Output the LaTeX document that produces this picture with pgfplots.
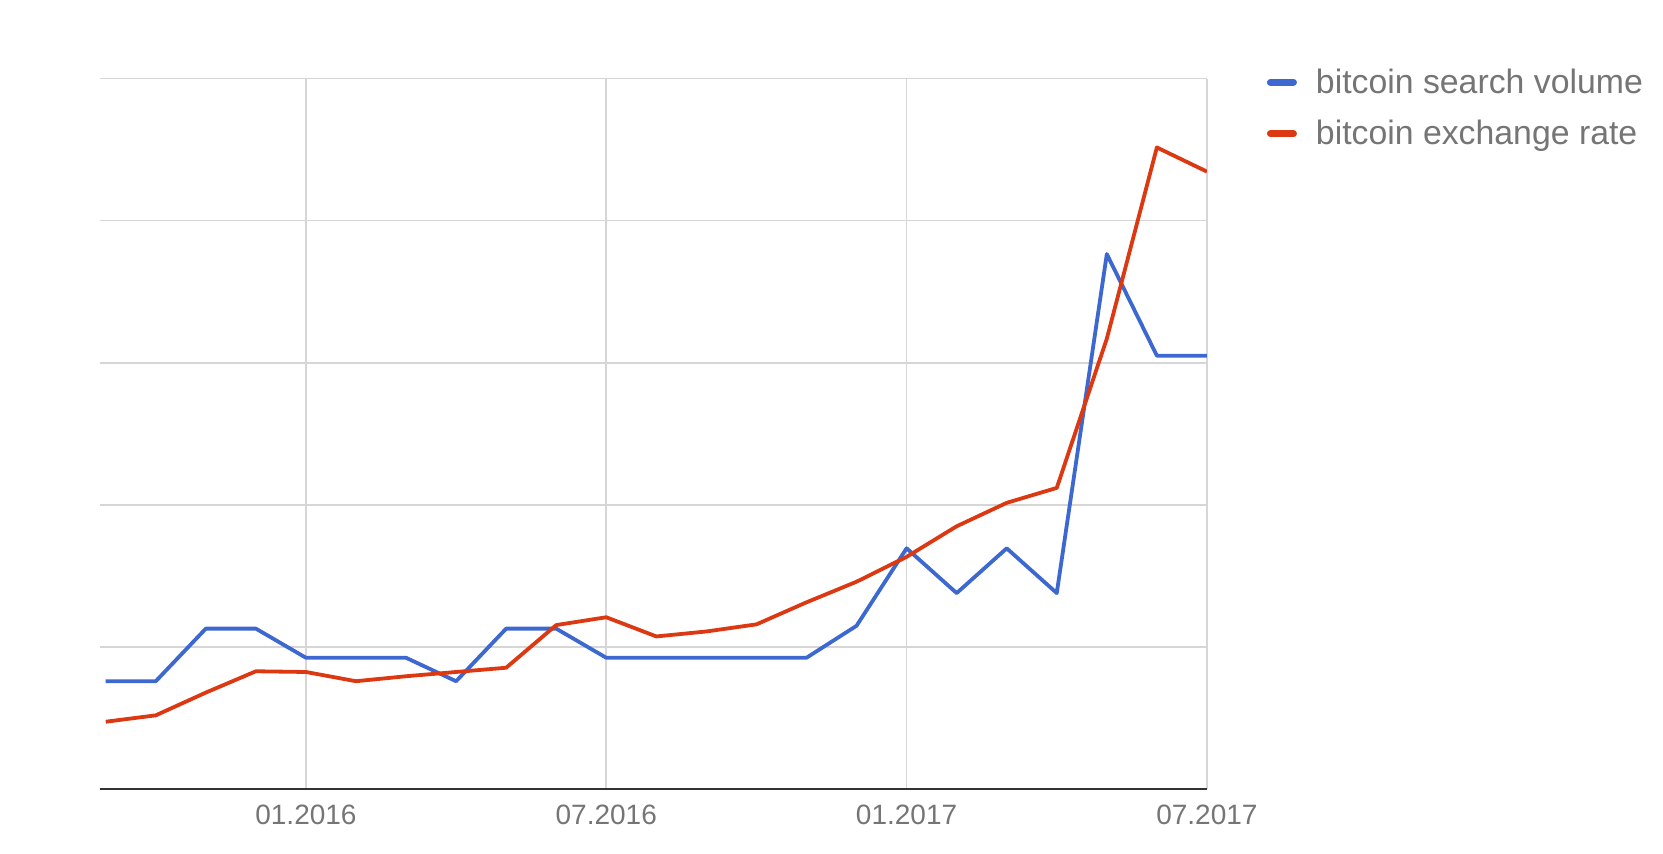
\documentclass[border=0pt]{standalone}
\usepackage{pgfplots}
\pgfplotsset{compat=1.18}
\usepackage{fontspec}
\setmainfont{Liberation Sans}
\definecolor{gblue}{HTML}{3C68D0}
\definecolor{gred}{HTML}{DC3912}
\definecolor{gridc}{HTML}{D6D6D6}
\definecolor{labc}{HTML}{757575}
\begin{document}
\begin{tikzpicture}
\useasboundingbox (-49.85pt,-32pt) rectangle (781.5pt,394.55pt);
\begin{axis}[
  at={(0,0)}, anchor=south west,
  scale only axis, width=553.5pt, height=355.3pt,
  xmin=-0.12, xmax=22, ymin=0, ymax=100,
  axis x line*=bottom, axis y line*=left,
  y axis line style={draw=none},
  x axis line style={draw=black!80, line width=0.9pt, -},
  xtick={4,10,16,22}, xticklabels={01.2016,07.2016,01.2017,07.2017},
  ytick={0,20,40,60,80,100}, yticklabels={},
  major tick length=0pt,
  grid=major, major grid style={draw=gridc, line width=0.8pt},
  xticklabel style={font=\fontsize{14}{14}\selectfont, text=labc, anchor=center, yshift=-12.7pt, inner sep=0pt},
  legend style={draw=none, fill=none, at={(1,1)}, anchor=north west, xshift=30pt, yshift=5pt,
    inner sep=0pt, outer sep=0pt, row sep=12pt, font=\fontsize{16.9}{16.9}\selectfont, text=labc,
    nodes={inner sep=0pt}, /tikz/every odd column/.append style={column sep=9.5pt}},
  legend cell align=left,
  legend image code/.code={\draw[line width=3.5pt, line cap=round] (1.75pt,0pt) -- (13.25pt,0pt);},
]
\addplot[gblue, line width=1.9pt, line join=round] coordinates {
(0,15.2) (1,15.2) (2,22.6) (3,22.6) (4,18.5) (5,18.5) (6,18.5) (7,15.2) (8,22.6) (9,22.6)
(10,18.5) (11,18.5) (12,18.5) (13,18.5) (14,18.5) (15,23.0) (16,33.9) (17,27.6) (18,33.9)
(19,27.6) (20,75.3) (21,61.0) (22,61.0)};
\addlegendentry{bitcoin search volume}
\addplot[gred, line width=1.9pt, line join=round] coordinates {
(0,9.5) (1,10.4) (2,13.6) (3,16.6) (4,16.5) (5,15.2) (6,15.9) (7,16.5) (8,17.1) (9,23.1)
(10,24.2) (11,21.5) (12,22.2) (13,23.2) (14,26.3) (15,29.2) (16,32.7) (17,37.0) (18,40.3)
(19,42.4) (20,63.4) (21,90.3) (22,86.9)};
\addlegendentry{bitcoin exchange rate}
\end{axis}
\end{tikzpicture}
\end{document}
